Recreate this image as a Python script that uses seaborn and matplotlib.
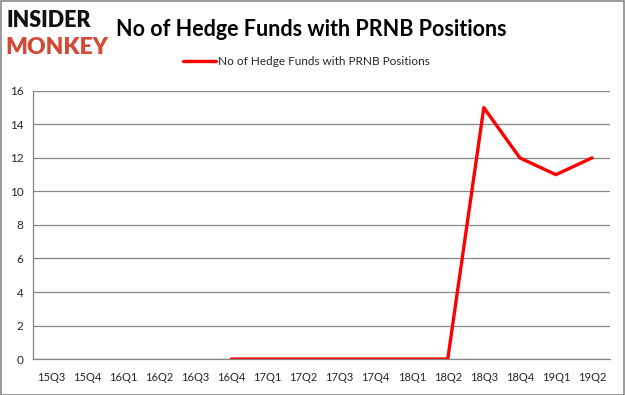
import numpy as np
import pandas as pd
import matplotlib
matplotlib.use("Agg")
import matplotlib.pyplot as plt
import seaborn as sns

# Quarters and number of hedge funds holding PRNB
quarters = ["15Q3", "15Q4", "16Q1", "16Q2", "16Q3", "16Q4", "17Q1", "17Q2",
            "17Q3", "17Q4", "18Q1", "18Q2", "18Q3", "18Q4", "19Q1", "19Q2"]
funds = [np.nan, np.nan, np.nan, np.nan, np.nan, 0, 0, 0,
         0, 0, 0, 0, 15, 12, 11, 12]
yticks = [0, 2, 4, 6, 8, 10, 12, 14, 16]
series_name = "No of Hedge Funds with PRNB Positions"

df = pd.DataFrame({"pos": np.arange(len(quarters)), "funds": funds}).dropna()

sns.set_style("white")
plt.rcParams["font.family"] = ["Lato", "DejaVu Sans"]

fig = plt.figure(figsize=(6.25, 3.95), dpi=100)
ax = fig.add_axes([0.053, 0.091, 0.923, 0.679])

sns.lineplot(data=df, x="pos", y="funds", color="#ff0000", linewidth=2.4,
             ax=ax, label=series_name, legend=False)

grey = "#868686"
ax.set_xlim(-0.5, len(quarters) - 0.5)
ax.set_ylim(0, 16)
ax.set_yticks(yticks)
ax.yaxis.grid(True, color=grey, linewidth=0.9)
ax.set_axisbelow(True)

# Excel-like category axis: ticks between categories, labels at centres
ax.set_xticks(np.arange(len(quarters) + 1) - 0.5)
ax.set_xticklabels([])
ax.set_xticks(np.arange(len(quarters)), minor=True)
ax.set_xticklabels(quarters, minor=True)
ax.tick_params(axis="x", which="major", length=4, color=grey, width=0.9, direction="out")
ax.tick_params(axis="x", which="minor", length=0, pad=9, labelsize=8)
ax.tick_params(axis="y", length=4, color=grey, width=0.9, direction="out", labelsize=8.5, pad=3)
ax.set_xlabel("")
ax.set_ylabel("")

for side in ["top", "right"]:
    ax.spines[side].set_visible(False)
for side in ["left", "bottom"]:
    ax.spines[side].set_color(grey)
    ax.spines[side].set_linewidth(0.9)

# Title and logo
fig.text(0.186, 0.925, series_name, fontsize=15.5, fontweight="bold",
         ha="left", va="center", color="#000000")
fig.text(0.010, 0.947, "INSIDER", fontsize=15.5, fontweight="heavy",
         ha="left", va="center", color="#111111")
fig.text(0.008, 0.880, "MONKEY", fontsize=16.5, fontweight="heavy",
         ha="left", va="center", color="#d24a36")

handles, labels = ax.get_legend_handles_labels()
fig.legend(handles, labels, loc="center", bbox_to_anchor=(0.49, 0.845),
           frameon=False, fontsize=8.5, handlelength=2.8, handletextpad=0.2)

# Outer border
fig.patches.append(plt.Rectangle((0.001, 0.001), 0.997, 0.997, transform=fig.transFigure,
                                 fill=False, edgecolor="#898989", linewidth=1.2))

fig.savefig("out.png", dpi=100)
